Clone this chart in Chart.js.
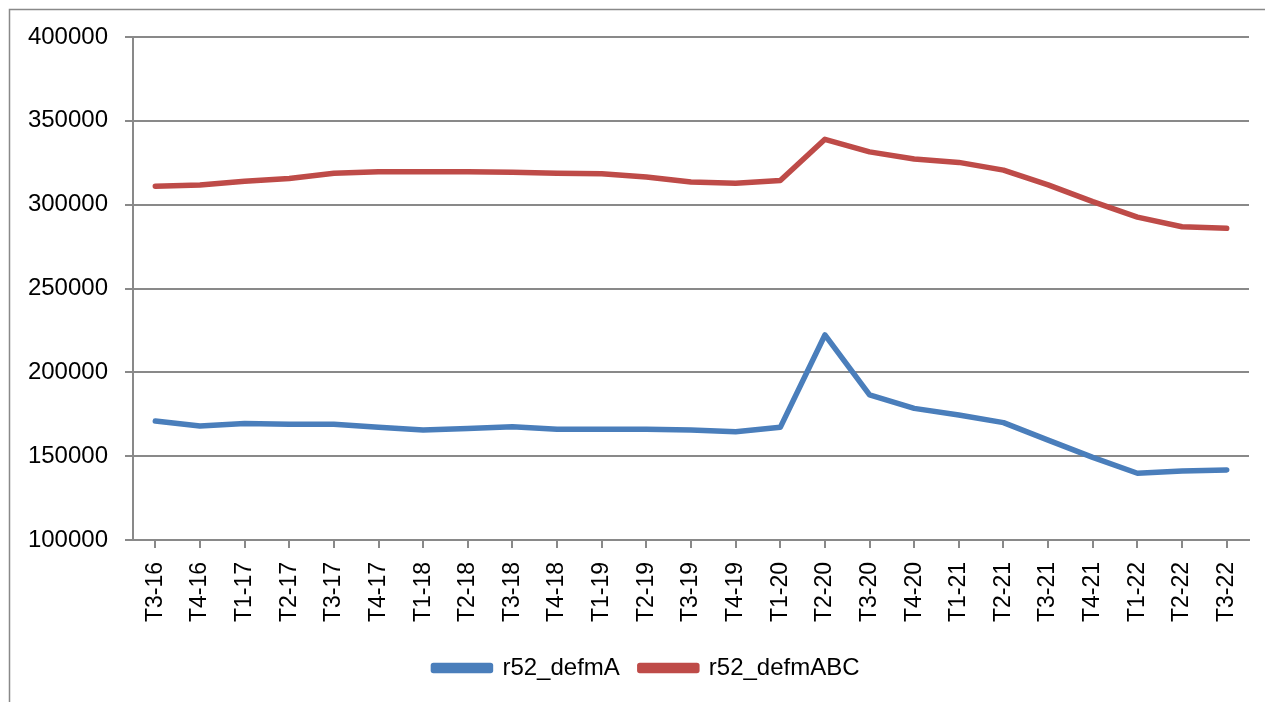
<!DOCTYPE html>
<html>
<head>
<meta charset="utf-8">
<script src="https://cdn.jsdelivr.net/npm/chart.js@4"></script>
<style>
  html, body { margin: 0; padding: 0; background: #fff; }
  #wrap { width: 1265px; height: 702px; position: relative; }
</style>
</head>
<body>
<div id="wrap"><canvas id="chart" width="1265" height="702"></canvas></div>
<script>
const labels = ['T3-16', 'T4-16', 'T1-17', 'T2-17', 'T3-17', 'T4-17', 'T1-18', 'T2-18', 'T3-18', 'T4-18',
    'T1-19', 'T2-19', 'T3-19', 'T4-19', 'T1-20', 'T2-20', 'T3-20', 'T4-20', 'T1-21', 'T2-21',
    'T3-21', 'T4-21', 'T1-22', 'T2-22', 'T3-22'];

const defmA = [171000, 168000, 169500, 169000, 169000, 167200, 165600, 166500, 167500, 166000,
    166000, 166000, 165600, 164600, 167200, 222300, 186500, 178500, 174600, 170000,
    159600, 149300, 139800, 141200, 141800];

const defmABC = [311000, 311700, 314000, 315600, 318800, 319600, 319700, 319700, 319400, 318800,
    318500, 316500, 313500, 312800, 314400, 339000, 331500, 327200, 325200, 320600,
    311800, 301800, 292600, 286800, 285900];

const yMin = 100000;
const yMax = 400000;
const yStep = 50000;

const gray = '#898989';
const family = "'Liberation Sans', Arial, sans-serif";
const font = { family: family, size: 24 };
const xFont = { family: family, size: 23 };

// marco exterior del gráfico
const framePlugin = {
    id: 'frame',
    beforeDraw(chart) {
        const ctx = chart.ctx;
        ctx.save();
        ctx.strokeStyle = gray;
        ctx.lineWidth = 1.5;
        ctx.beginPath();
        ctx.moveTo(9.5, 702);
        ctx.lineTo(9.5, 9.5);
        ctx.lineTo(1265, 9.5);
        ctx.stroke();
        ctx.restore();
    },
    // la leyenda va centrada algo a la derecha, como en Excel
    afterLayout(chart) {
        if (chart.legend) chart.legend.left = 44;
    }
};

Chart.defaults.font = font;
Chart.defaults.color = '#000';

new Chart(document.getElementById('chart').getContext('2d'), {
    type: 'line',
    data: {
        labels: labels,
        datasets: [
            { label: 'r52_defmA', data: defmA, borderColor: '#4a7ebb', backgroundColor: '#4a7ebb' },
            { label: 'r52_defmABC', data: defmABC, borderColor: '#be4b48', backgroundColor: '#be4b48' }
        ].map(ds => Object.assign(ds, {
            borderWidth: 5.5,
            pointRadius: 0,
            tension: 0,
            borderCapStyle: 'round',
            borderJoinStyle: 'round'
        }))
    },
    options: {
        responsive: false,
        animation: false,
        layout: { padding: { left: 0, top: 37, right: 16, bottom: 12 } },
        plugins: {
            legend: {
                position: 'bottom',
                labels: { boxWidth: 57, boxHeight: 5, padding: 20, font: font }
            },
            tooltip: { enabled: false }
        },
        scales: {
            x: {
                offset: true,
                afterFit: scale => {
                    scale.height = 96;
                    scale.paddingLeft = 0;
                    scale.paddingRight = 0;
                },
                grid: { drawOnChartArea: false, tickLength: 8, color: gray, lineWidth: 2 },
                border: { color: gray, width: 2 },
                ticks: { minRotation: 90, maxRotation: 90, autoSkip: false, padding: 14, font: xFont }
            },
            y: {
                min: yMin,
                max: yMax,
                afterFit: scale => { scale.width = 133; },
                ticks: { stepSize: yStep, padding: 17, font: font, callback: v => String(v) },
                grid: { color: gray, lineWidth: 2, tickLength: 8 },
                border: { color: gray, width: 2 }
            }
        }
    },
    plugins: [framePlugin]
});
</script>
</body>
</html>
